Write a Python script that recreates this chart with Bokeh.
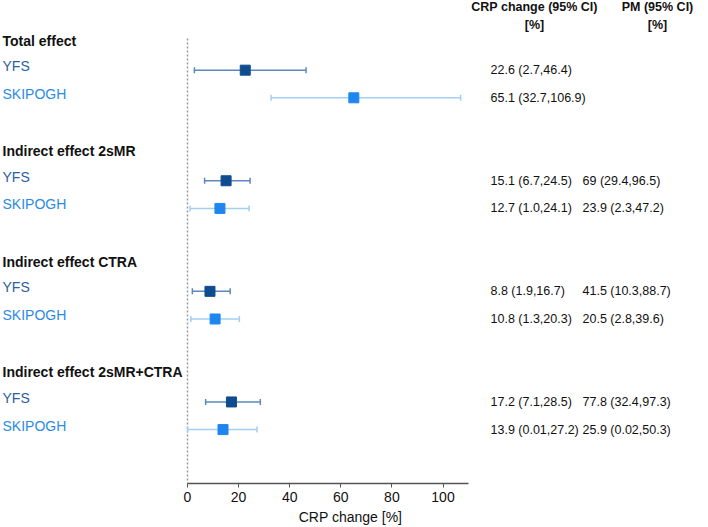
import math
from bokeh.plotting import figure
from bokeh.models import Range1d, ColumnDataSource, FixedTicker
from bokeh.core.properties import value
from bokeh.embed import file_html
from bokeh.resources import INLINE

# ---------------- data ----------------
groups = ["Total effect", "Indirect effect 2sMR", "Indirect effect CTRA", "Indirect effect 2sMR+CTRA"]
studies = ["YFS", "SKIPOGH"]

yfs_est = [22.6, 15.1, 8.8, 17.2]
yfs_lo = [2.7, 6.7, 1.9, 7.1]
yfs_hi = [46.4, 24.5, 16.7, 28.5]
yfs_crp_txt = ["22.6 (2.7,46.4)", "15.1 (6.7,24.5)", "8.8 (1.9,16.7)", "17.2 (7.1,28.5)"]
yfs_pm_txt = ["", "69 (29.4,96.5)", "41.5 (10.3,88.7)", "77.8 (32.4,97.3)"]

skip_est = [65.1, 12.7, 10.8, 13.9]
skip_lo = [32.7, 1.0, 1.3, 0.01]
skip_hi = [106.9, 24.1, 20.3, 27.2]
skip_crp_txt = ["65.1 (32.7,106.9)", "12.7 (1.0,24.1)", "10.8 (1.3,20.3)", "13.9 (0.01,27.2)"]
skip_pm_txt = ["", "23.9 (2.3,47.2)", "20.5 (2.8,39.6)", "25.9 (0.02,50.3)"]

x_ticks = [0, 20, 40, 60, 80, 100]
col_headers = ["CRP change (95% CI)", "PM (95% CI)"]

# ---------------- layout ----------------
FONT = "Liberation Sans"
W, H = 700, 527
ZERO_PX, SCALE = 187.0, 2.555  # frame px of x=0 and px per unit
NUM_SIZE = "12.5px"


def xd(frame_px):
    return (frame_px - ZERO_PX) / SCALE


YFS_MARK = "#0f4c8f"
YFS_LINE = "#5d88bd"
YFS_TEXT = "#2d5e9e"
SK_MARK = "#1f86ef"
SK_LINE = "#a3cff3"
SK_TEXT = "#2b8ae6"

Y_BOT, Y_TOP = 15.95, -1.52

p = figure(width=W, height=H, output_backend="svg", toolbar_location=None,
           x_range=Range1d(xd(0), xd(W)), y_range=Range1d(Y_BOT, Y_TOP),
           min_border_left=0, min_border_right=0, min_border_top=0, min_border_bottom=0)
p.outline_line_color = None
p.xgrid.visible = False
p.ygrid.visible = False
p.yaxis.visible = False
p.background_fill_color = "white"
p.border_fill_color = "white"

# x axis
ax = p.xaxis[0]
ax.bounds = (0, 110)
ax.ticker = FixedTicker(ticks=x_ticks)
ax.minor_tick_line_color = None
ax.major_tick_out = 4
ax.major_tick_in = 0
ax.axis_line_color = "#555555"
ax.axis_line_width = 1.5
ax.major_tick_line_color = "#555555"
ax.major_label_text_font = FONT
ax.major_label_text_font_size = "14px"
ax.major_label_text_color = "#111111"
ax.major_label_standoff = 4
ax.axis_label = "CRP change [%]"
ax.axis_label_text_font = FONT
ax.axis_label_text_font_size = "14px"
ax.axis_label_text_font_style = "normal"
ax.axis_label_text_color = "#111111"
ax.axis_label_standoff = 4

# dotted reference line at 0
p.segment(x0=[0], y0=[-0.15], x1=[0], y1=[Y_BOT], line_color="#9a9a9a",
          line_width=1.5, line_dash="2 2")

n = len(groups)
hdr_rows = [4 * g for g in range(n)]
yfs_rows = [4 * g + 1 for g in range(n)]
sk_rows = [4 * g + 2 for g in range(n)]

# group headers
p.text(x=[xd(2)] * n, y=hdr_rows, text=groups, text_font=value(FONT),
       text_font_size="14px", text_font_style="bold", text_color="#111111",
       text_baseline="middle", text_align="left", y_offset=-2)

for rows, est, lo, hi, crp, pm, name, mk, ln, tc in [
    (yfs_rows, yfs_est, yfs_lo, yfs_hi, yfs_crp_txt, yfs_pm_txt, studies[0], YFS_MARK, YFS_LINE, YFS_TEXT),
    (sk_rows, skip_est, skip_lo, skip_hi, skip_crp_txt, skip_pm_txt, studies[1], SK_MARK, SK_LINE, SK_TEXT),
]:
    src = ColumnDataSource(dict(y=rows, est=est, lo=lo, hi=hi, crp=crp, pm=pm,
                                name=[name] * n))
    p.segment(x0="lo", y0="y", x1="hi", y1="y", source=src, line_color=ln, line_width=1.5)
    p.scatter(x="lo", y="y", source=src, marker="dash", angle=math.pi / 2, size=6,
              line_color=ln, line_width=1.5)
    p.scatter(x="hi", y="y", source=src, marker="dash", angle=math.pi / 2, size=6,
              line_color=ln, line_width=1.5)
    p.scatter(x="est", y="y", source=src, marker="square", size=10,
              fill_color=mk, line_color=mk)
    p.text(x=xd(2), y="y", text="name", source=src, text_font=value(FONT),
           text_font_size="14px", text_color=tc, text_baseline="middle",
           text_align="left", y_offset=-4)
    p.text(x=xd(490), y="y", text="crp", source=src, text_font=value(FONT),
           text_font_size=NUM_SIZE, text_color="#111111", text_baseline="middle",
           text_align="left")
    p.text(x=xd(582), y="y", text="pm", source=src, text_font=value(FONT),
           text_font_size=NUM_SIZE, text_color="#111111", text_baseline="middle",
           text_align="left")

# column headers
p.text(x=[xd(534), xd(657)], y=[-1.27, -1.27], text=col_headers, text_font=value(FONT),
       text_font_size=NUM_SIZE, text_font_style="bold", text_color="#111111",
       text_baseline="middle", text_align="center")
p.text(x=[xd(534), xd(657)], y=[-0.62, -0.62], text=["[%]", "[%]"], text_font=value(FONT),
       text_font_size=NUM_SIZE, text_font_style="bold", text_color="#111111",
       text_baseline="middle", text_align="center")

open("out.html", "w").write(file_html(p, INLINE))
